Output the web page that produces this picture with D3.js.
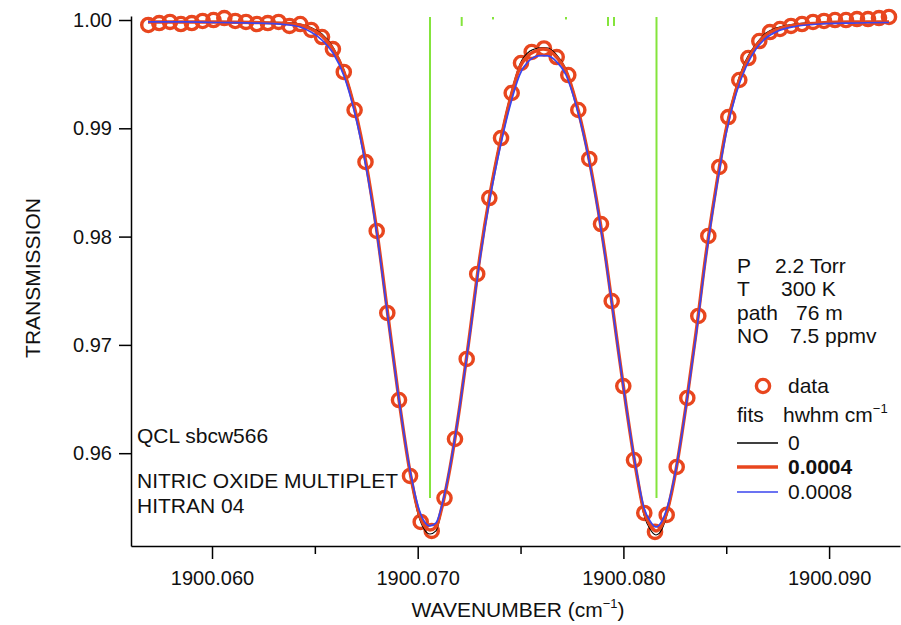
<!DOCTYPE html>
<html>
<head>
<meta charset="utf-8">
<script src="https://cdn.jsdelivr.net/npm/d3@7"></script>
<style>
  body { margin: 0; background: #fff; }
  svg { display: block; }
  text { font-family: "Liberation Sans", Arial, sans-serif; fill: #111; }
</style>
</head>
<body>
<svg id="chart" width="901" height="625"></svg>
<script>
// Measured transmission of the NO multiplet
const dataWavenumber = [
  1900.056903, 1900.057433, 1900.057958, 1900.058488, 1900.059018, 1900.059543, 1900.060073, 1900.060598, 1900.061128, 1900.061653,
  1900.062183, 1900.062713, 1900.063238, 1900.063768, 1900.064293, 1900.064823, 1900.065348, 1900.065878, 1900.066407, 1900.066932,
  1900.067462, 1900.068007, 1900.068522, 1900.069091, 1900.069626, 1900.070146, 1900.070681, 1900.071303, 1900.071813, 1900.072382,
  1900.072893, 1900.073481, 1900.074050, 1900.074570, 1900.075022, 1900.075542, 1900.076140, 1900.076757, 1900.077321, 1900.077808,
  1900.078342, 1900.078911, 1900.079431, 1900.079995, 1900.080515, 1900.081016, 1900.081536, 1900.082105, 1900.082591, 1900.083107,
  1900.083641, 1900.084128, 1900.084662, 1900.085100, 1900.085634, 1900.086072, 1900.086607, 1900.087127, 1900.087613, 1900.088148,
  1900.088683, 1900.089218, 1900.089752, 1900.090287, 1900.090822, 1900.091356, 1900.091891, 1900.092426, 1900.092912
];
const dataTransmission = [
  0.99954, 0.99972, 0.99982, 0.99963, 0.99972, 0.99991, 1.00000, 1.00018, 0.99991, 0.99982,
  0.99963, 0.99972, 0.99982, 0.99945, 0.99963, 0.99908, 0.99843, 0.99732, 0.99520, 0.99169,
  0.98689, 0.98052, 0.97295, 0.96491, 0.95790, 0.95365, 0.95282, 0.95586, 0.96131, 0.96870,
  0.97655, 0.98356, 0.98910, 0.99326, 0.99603, 0.99705, 0.99737, 0.99658, 0.99492, 0.99169,
  0.98717, 0.98116, 0.97405, 0.96620, 0.95937, 0.95448, 0.95273, 0.95430, 0.95873, 0.96510,
  0.97267, 0.98006, 0.98643, 0.99104, 0.99446, 0.99649, 0.99806, 0.99889, 0.99917, 0.99945,
  0.99963, 0.99982, 0.99991, 1.00000, 1.00000, 1.00009, 1.00009, 1.00018, 1.00028
];

// Fitted profiles for three Lorentz half widths (hwhm, cm-1)
const fitWavenumber = [
  1900.056889, 1900.058687, 1900.060389, 1900.062090, 1900.063549,
  1900.064278, 1900.064813, 1900.065348, 1900.065882, 1900.066417,
  1900.066952, 1900.067487, 1900.068021, 1900.068556, 1900.069091,
  1900.069626, 1900.070015, 1900.070306, 1900.070598, 1900.070890,
  1900.071181, 1900.071570, 1900.072056, 1900.072543, 1900.073029,
  1900.073515, 1900.074001, 1900.074487, 1900.074973, 1900.075460,
  1900.075848, 1900.076092, 1900.076335, 1900.076723, 1900.077210,
  1900.077696, 1900.078182, 1900.078668, 1900.079154, 1900.079640,
  1900.080126, 1900.080613, 1900.081002, 1900.081293, 1900.081585,
  1900.081877, 1900.082168, 1900.082557, 1900.083043, 1900.083529,
  1900.084016, 1900.084502, 1900.084988, 1900.085474, 1900.085960,
  1900.086446, 1900.086933, 1900.087516, 1900.088342, 1900.089558,
  1900.091016, 1900.092912
];
const fitHwhm0 = [
  0.99982, 0.99982, 0.99982, 0.99982, 0.99977,
  0.99963, 0.99931, 0.99871, 0.99751, 0.99538,
  0.99187, 0.98698, 0.98061, 0.97276, 0.96482,
  0.95799, 0.95439, 0.95300, 0.95254, 0.95282,
  0.95485, 0.95854, 0.96454, 0.97138, 0.97848,
  0.98421, 0.98892, 0.99289, 0.99594, 0.99714,
  0.99741, 0.99746, 0.99741, 0.99686, 0.99548,
  0.99261, 0.98873, 0.98375, 0.97793, 0.97110,
  0.96436, 0.95826, 0.95429, 0.95300, 0.95245,
  0.95300, 0.95466, 0.95836, 0.96445, 0.97128,
  0.97867, 0.98476, 0.99012, 0.99381, 0.99631,
  0.99778, 0.99880, 0.99931, 0.99963, 0.99977,
  0.99982, 0.99982
];
const fitHwhm0004 = [
  0.99982, 0.99982, 0.99982, 0.99977, 0.99968,
  0.99954, 0.99917, 0.99852, 0.99732, 0.99520,
  0.99169, 0.98680, 0.98042, 0.97267, 0.96491,
  0.95826, 0.95476, 0.95337, 0.95291, 0.95319,
  0.95503, 0.95863, 0.96445, 0.97119, 0.97821,
  0.98393, 0.98864, 0.99261, 0.99566, 0.99686,
  0.99723, 0.99732, 0.99723, 0.99663, 0.99529,
  0.99243, 0.98855, 0.98366, 0.97784, 0.97110,
  0.96445, 0.95845, 0.95462, 0.95337, 0.95282,
  0.95337, 0.95494, 0.95845, 0.96436, 0.97110,
  0.97839, 0.98449, 0.98984, 0.99354, 0.99603,
  0.99760, 0.99861, 0.99917, 0.99954, 0.99972,
  0.99982, 0.99982
];
const fitHwhm0008 = [
  0.99982, 0.99982, 0.99977, 0.99972, 0.99958,
  0.99935, 0.99889, 0.99815, 0.99695, 0.99483,
  0.99132, 0.98643, 0.98015, 0.97248, 0.96491,
  0.95845, 0.95512, 0.95374, 0.95328, 0.95356,
  0.95522, 0.95873, 0.96445, 0.97101, 0.97793,
  0.98356, 0.98818, 0.99206, 0.99501, 0.99631,
  0.99668, 0.99672, 0.99668, 0.99621, 0.99492,
  0.99215, 0.98836, 0.98347, 0.97765, 0.97101,
  0.96445, 0.95863, 0.95494, 0.95374, 0.95319,
  0.95374, 0.95522, 0.95854, 0.96427, 0.97082,
  0.97812, 0.98421, 0.98947, 0.99317, 0.99566,
  0.99732, 0.99834, 0.99898, 0.99940, 0.99963,
  0.99972, 0.99977
];

// HITRAN 04 line positions, drawn as sticks hanging from the top
const lineWavenumber = [1900.070598, 1900.072139, 1900.073661, 1900.077210, 1900.079251, 1900.079543, 1900.081609];
const lineEnd = [0.95586, 0.99945, 1.00005, 1.00005, 0.99945, 0.99945, 0.95586];
const lineTop = 1.00028;

// Axes
const xTicks = [1900.060, 1900.070, 1900.080, 1900.090];
const xMinorTicks = [1900.065, 1900.075, 1900.085];
const yTicks = [0.96, 0.97, 0.98, 0.99, 1.00];

// Text blocks
const noteLines = ["QCL sbcw566", "NITRIC OXIDE MULTIPLET", "HITRAN 04"];
const conditionNames = ["P", "T", "path", "NO"];
const conditionValues = ["2.2 Torr", "300 K", "76 m", "7.5 ppmv"];
const fitLabels = ["0", "0.0004", "0.0008"];

const COLORS = { data: "#e8461e", fit0: "#000000", fit0004: "#e8461e", fit0008: "#3a45ee", stick: "#84e43c" };

const svg = d3.select("#chart");
const FS = 21;      // annotation and title text
const TICK_FS = 20; // tick labels

const x = d3.scaleLinear().domain([1900.056062, 1900.093447]).range([131, 900]);
const y = d3.scaleLinear().domain([0.95143, 1.00037]).range([546, 16]);

// Stick spectrum
svg.append("g").selectAll("line").data(lineWavenumber).join("line")
  .attr("x1", d => x(d)).attr("x2", d => x(d))
  .attr("y1", y(lineTop)).attr("y2", (d, i) => y(lineEnd[i]))
  .attr("stroke", COLORS.stick).attr("stroke-width", 2);

// Y axis
svg.append("g").attr("transform", "translate(131,0)")
  .call(d3.axisLeft(y).tickValues(yTicks).tickFormat(d3.format(".2f")).tickSize(12).tickSizeOuter(0).tickPadding(7));
// X axis, major then minor ticks
svg.append("g").attr("transform", "translate(0,546)")
  .call(d3.axisBottom(x).tickValues(xTicks).tickFormat(d3.format(".3f")).tickSize(13).tickSizeOuter(0).tickPadding(12));
svg.append("g").attr("transform", "translate(0,546)")
  .call(d3.axisBottom(x).tickValues(xMinorTicks).tickFormat("").tickSize(8).tickSizeOuter(0))
  .select(".domain").remove();

svg.selectAll(".tick text").attr("font-size", TICK_FS).attr("font-family", "Liberation Sans, Arial, sans-serif").attr("fill", "#111");
svg.selectAll(".domain, .tick line").attr("stroke", "#000").attr("stroke-width", 1.5);

// Axis titles
svg.append("text").attr("transform", "translate(40,278) rotate(-90)")
  .attr("text-anchor", "middle").attr("font-size", FS).text("TRANSMISSION");
const xt = svg.append("text").attr("x", 518).attr("y", 617).attr("text-anchor", "middle").attr("font-size", FS);
xt.append("tspan").text("WAVENUMBER (cm");
xt.append("tspan").attr("dy", -9).attr("font-size", 13).text("−1");
xt.append("tspan").attr("dy", 9).text(")");

// Data points
svg.append("g").selectAll("circle").data(dataWavenumber).join("circle")
  .attr("cx", d => x(d)).attr("cy", (d, i) => y(dataTransmission[i]))
  .attr("r", 6.6).attr("fill", "none").attr("stroke", COLORS.data).attr("stroke-width", 3.4);

// Fit curves
const fitLine = vals => d3.line().curve(d3.curveMonotoneX)
  .x(d => x(d)).y((d, i) => y(vals[i]))(fitWavenumber);
svg.append("path").attr("d", fitLine(fitHwhm0)).attr("fill", "none").attr("stroke", COLORS.fit0).attr("stroke-width", 1.1);
svg.append("path").attr("d", fitLine(fitHwhm0004)).attr("fill", "none").attr("stroke", COLORS.fit0004).attr("stroke-width", 3.4);
svg.append("path").attr("d", fitLine(fitHwhm0008)).attr("fill", "none").attr("stroke", COLORS.fit0008).attr("stroke-width", 1.7);

// Notes at lower left
const noteY = [443, 488, 513];
svg.append("g").selectAll("text").data(noteLines).join("text")
  .attr("x", 137).attr("y", (d, i) => noteY[i]).attr("font-size", FS).text(d => d);

// Experimental conditions
const condX = [775, 781, 796, 790];
conditionNames.forEach((n, i) => {
  svg.append("text").attr("x", 737).attr("y", 273 + i * 23.3).attr("font-size", FS).text(n);
  svg.append("text").attr("x", condX[i]).attr("y", 273 + i * 23.3).attr("font-size", FS).text(conditionValues[i]);
});

// Legend
svg.append("circle").attr("cx", 763).attr("cy", 386).attr("r", 6.6)
  .attr("fill", "none").attr("stroke", COLORS.data).attr("stroke-width", 3.4);
svg.append("text").attr("x", 788).attr("y", 393).attr("font-size", FS).text("data");
svg.append("text").attr("x", 737).attr("y", 422).attr("font-size", FS).text("fits");
const hw = svg.append("text").attr("x", 783).attr("y", 422).attr("font-size", FS);
hw.append("tspan").text("hwhm cm");
hw.append("tspan").attr("dy", -9).attr("font-size", 13).text("−1");

const legendRows = [
  { label: fitLabels[0], color: COLORS.fit0, w: 1.3, bold: false, y: 443 },
  { label: fitLabels[1], color: COLORS.fit0004, w: 3.4, bold: true, y: 467 },
  { label: fitLabels[2], color: COLORS.fit0008, w: 1.7, bold: false, y: 492 }
];
legendRows.forEach(r => {
  svg.append("line").attr("x1", 737).attr("x2", 778).attr("y1", r.y).attr("y2", r.y)
    .attr("stroke", r.color).attr("stroke-width", r.w);
  svg.append("text").attr("x", 788).attr("y", r.y + 7).attr("font-size", FS)
    .attr("font-weight", r.bold ? "bold" : "normal").text(r.label);
});
</script>
</body>
</html>
